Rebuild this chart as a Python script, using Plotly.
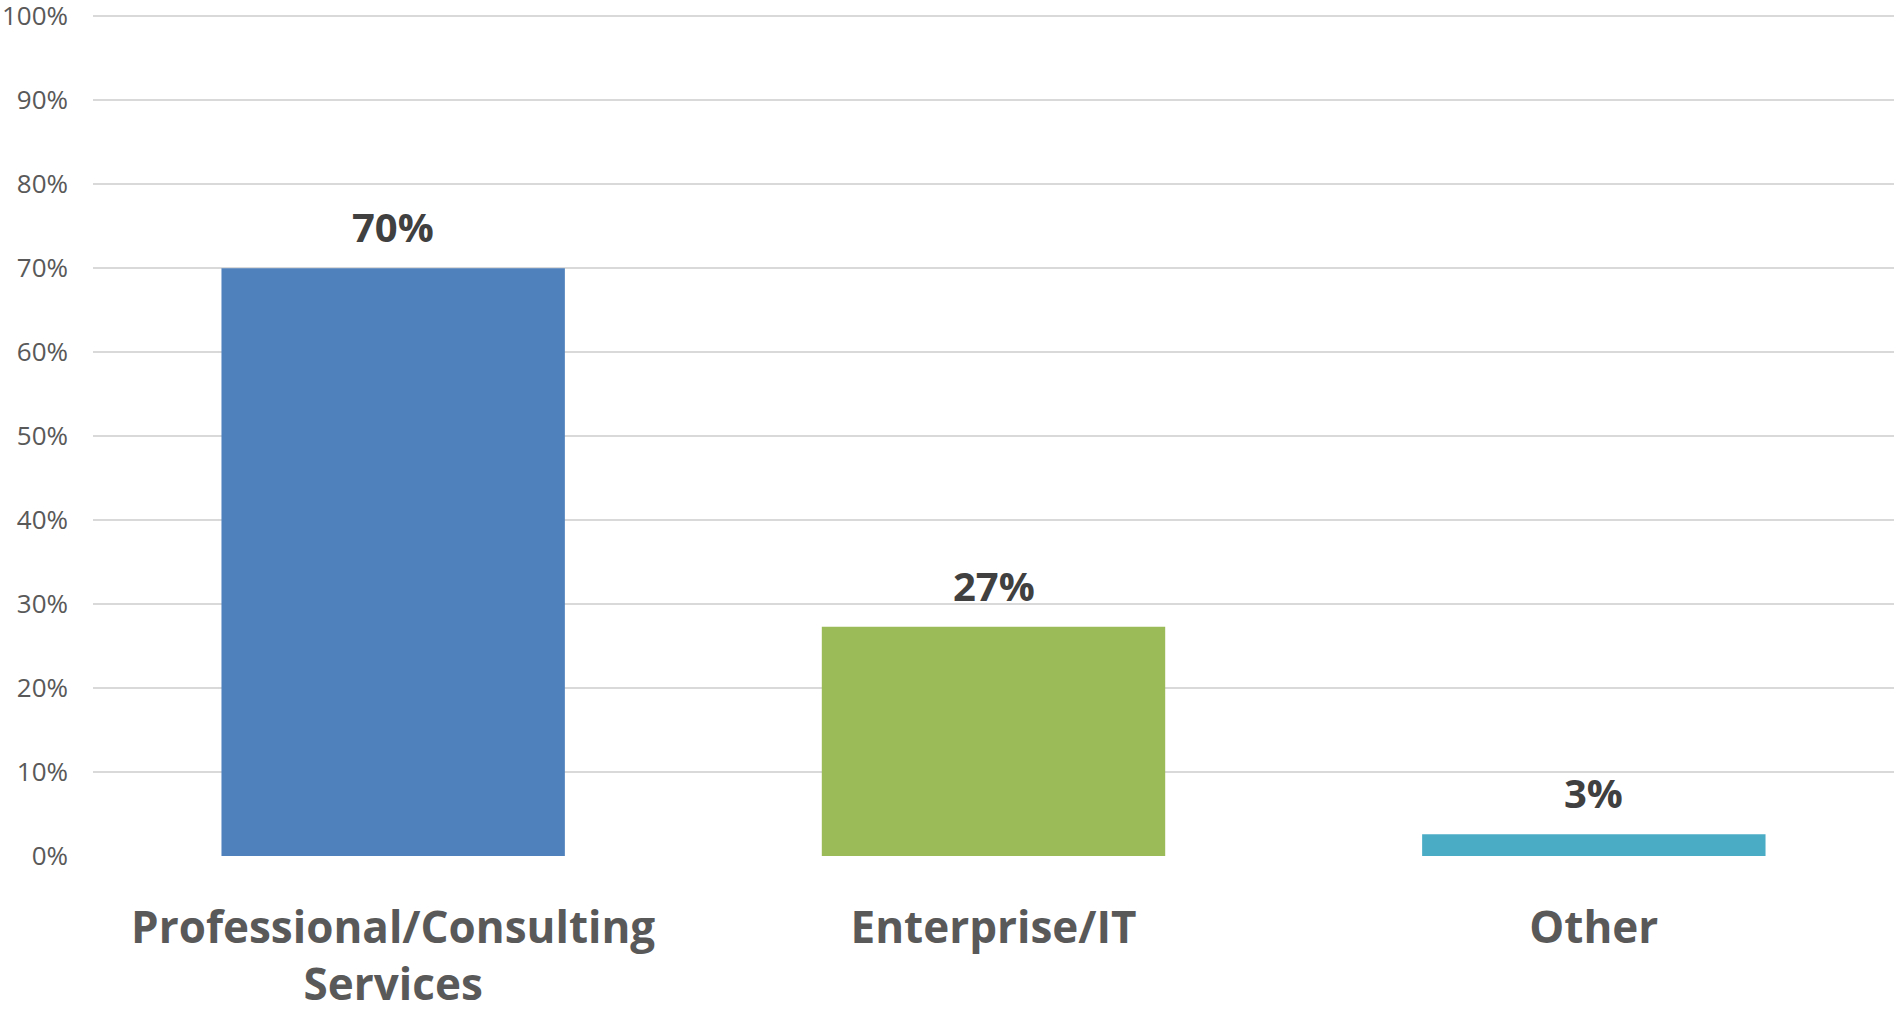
import plotly.graph_objects as go

categories = ["Professional/Consulting<br>Services", "Enterprise/IT", "Other"]
values = [70.0, 27.3, 2.6]
bar_colors = ["#4F81BD", "#9BBB59", "#4BACC6"]
y_ticks = [0, 10, 20, 30, 40, 50, 60, 70, 80, 90, 100]
y_tick_labels = [f"{v}%" for v in y_ticks]

x_pos = list(range(len(categories)))

fig = go.Figure()
fig.add_trace(go.Bar(
    x=x_pos,
    y=values,
    marker=dict(color=bar_colors, line=dict(width=0)),
    width=0.572,
    cliponaxis=False,
))

for xi, v in zip(x_pos, values):
    fig.add_annotation(
        x=xi, y=v, xref="x", yref="y",
        text=f"<b>{round(v)}%</b>",
        showarrow=False, yanchor="bottom", yshift=12,
        font=dict(family="Open Sans", size=40, color="#404040"),
    )

fig.update_layout(
    width=1894, height=1012,
    margin=dict(l=93, r=0, t=15, b=156, autoexpand=False),
    paper_bgcolor="white", plot_bgcolor="white",
    showlegend=False,
    font=dict(family="Open Sans"),
    xaxis=dict(
        range=[-0.5, 2.5],
        tickvals=x_pos,
        ticktext=[f"<b>{c}</b>" for c in categories],
        tickfont=dict(family="Open Sans", size=44, color="#595959"),
        showgrid=False, zeroline=False, showline=False, ticks="",
        ticklabelstandoff=42,
        automargin=False,
    ),
    yaxis=dict(
        range=[0, 100.15],
        tickvals=y_ticks,
        ticktext=y_tick_labels,
        tickfont=dict(family="Open Sans", size=26, color="#595959"),
        showgrid=True, gridcolor="#D9D9D9", gridwidth=2,
        zeroline=False, showline=False, ticks="",
        ticklabelstandoff=24,
        ticklabeloverflow="allow",
        automargin=False,
    ),
)

fig.write_html("out.html")
